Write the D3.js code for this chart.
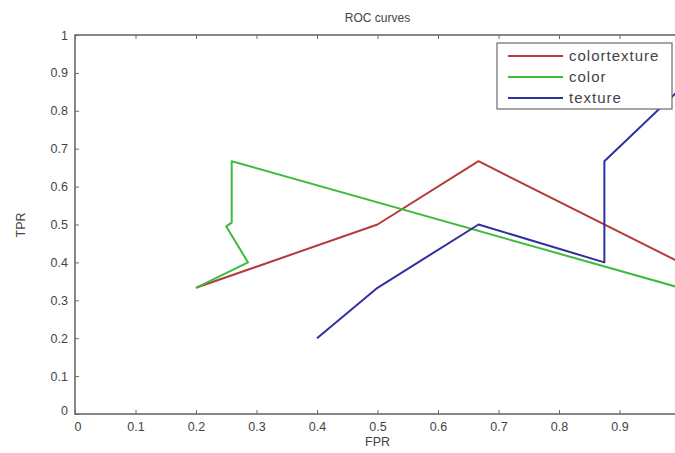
<!DOCTYPE html>
<html>
<head>
<meta charset="utf-8">
<script src="https://cdn.jsdelivr.net/npm/d3@7"></script>
<style>
  html, body { margin: 0; padding: 0; background: #fff; }
  svg { display: block; font-family: "Liberation Sans", Arial, sans-serif; }
</style>
</head>
<body>
<svg id="chart" width="675" height="453"></svg>
<script>
const seriesNames = ["colortexture", "color", "texture"];
const seriesColors = ["#b53a3a", "#3dbb3d", "#30309e"];
const colortextureFPR = [0.2, 0.5, 0.667, 1.0];
const colortextureTPR = [0.333, 0.5, 0.667, 0.4];
const colorFPR = [0.2, 0.286, 0.25, 0.259, 0.259, 1.0];
const colorTPR = [0.333, 0.4, 0.495, 0.505, 0.667, 0.333];
const textureFPR = [0.4, 0.455, 0.5, 0.667, 0.875, 0.875, 1.0];
const textureTPR = [0.2, 0.273, 0.333, 0.5, 0.4, 0.667, 0.857];
const xTicks = [0, 0.1, 0.2, 0.3, 0.4, 0.5, 0.6, 0.7, 0.8, 0.9];
const yTicks = [0, 0.1, 0.2, 0.3, 0.4, 0.5, 0.6, 0.7, 0.8, 0.9, 1];

(function () {
const fprs = [colortextureFPR, colorFPR, textureFPR];
const tprs = [colortextureTPR, colorTPR, textureTPR];

const svg = d3.select("#chart");
const mLeft = 75, mTop = 35, mRight = 680, mBottom = 414;
const x = d3.scaleLinear().domain([0, 1]).range([mLeft, mRight]);
const y = d3.scaleLinear().domain([0, 1]).range([mBottom, mTop]);
const axisColor = "#6a6a6a";
const textColor = "#444";

svg.append("rect").attr("x", mLeft).attr("y", mTop)
  .attr("width", mRight - mLeft).attr("height", mBottom - mTop)
  .attr("fill", "#fff").attr("stroke", axisColor).attr("stroke-width", 1.6);

const line = d3.line().x(d => x(d[0])).y(d => y(d[1]));
const plot = svg.append("g");
seriesNames.forEach((name, i) => {
  const pts = fprs[i].map((f, j) => [f, tprs[i][j]]);
  plot.append("path").datum(pts).attr("d", line)
    .attr("fill", "none").attr("stroke", seriesColors[i])
    .attr("stroke-width", 2).attr("stroke-linejoin", "round");
});

const xAxis = d3.axisBottom(x).tickValues(xTicks).tickSize(-4).tickPadding(8)
  .tickFormat(d => d3.format("~g")(d));
const gx = svg.append("g").attr("transform", `translate(0,${mBottom})`).call(xAxis);
gx.select(".domain").remove();
gx.selectAll("line").attr("stroke", axisColor);
gx.selectAll("text").attr("fill", textColor).style("font-size", "12.5px");

const gxt = svg.append("g").attr("transform", `translate(0,${mTop})`)
  .call(d3.axisTop(x).tickValues(xTicks).tickSize(-4).tickFormat(""));
gxt.select(".domain").remove();
gxt.selectAll("line").attr("stroke", axisColor);

const yAxis = d3.axisLeft(y).tickValues(yTicks).tickSize(-4).tickPadding(7)
  .tickFormat(d => d3.format("~g")(d));
const gy = svg.append("g").attr("transform", `translate(${mLeft},0)`).call(yAxis);
gy.select(".domain").remove();
gy.selectAll("line").attr("stroke", axisColor);
gy.selectAll("text").attr("fill", textColor).style("font-size", "12.5px");
gy.selectAll(".tick").filter(d => d === 0).select("text").attr("dy", "0.05em");
gx.selectAll(".tick").filter(d => d === 0).select("text").attr("dx", "0.2em");

svg.append("text").attr("x", (mLeft + mRight) / 2).attr("y", 22)
  .attr("text-anchor", "middle").attr("fill", textColor).style("font-size", "12px")
  .text("ROC curves");
svg.append("text").attr("x", (mLeft + mRight) / 2).attr("y", 446)
  .attr("text-anchor", "middle").attr("fill", textColor).style("font-size", "12.5px")
  .text("FPR");
svg.append("text").attr("transform", `translate(25,225) rotate(-90)`)
  .attr("text-anchor", "middle").attr("fill", textColor).style("font-size", "12.5px")
  .text("TPR");

const lg = svg.append("g");
lg.append("rect").attr("x", 497).attr("y", 43).attr("width", 175).attr("height", 66)
  .attr("fill", "#fff").attr("stroke", axisColor).attr("stroke-width", 1.2);
const rowY = [56, 77, 98];
seriesNames.forEach((name, i) => {
  lg.append("line").attr("x1", 508).attr("x2", 563).attr("y1", rowY[i]).attr("y2", rowY[i])
    .attr("stroke", seriesColors[i]).attr("stroke-width", 2);
  lg.append("text").attr("x", 569).attr("y", rowY[i]).attr("dy", "0.35em")
    .attr("fill", textColor).style("font-size", "15px").style("letter-spacing", "1px")
    .text(name);
});
})();
</script>
</body>
</html>
